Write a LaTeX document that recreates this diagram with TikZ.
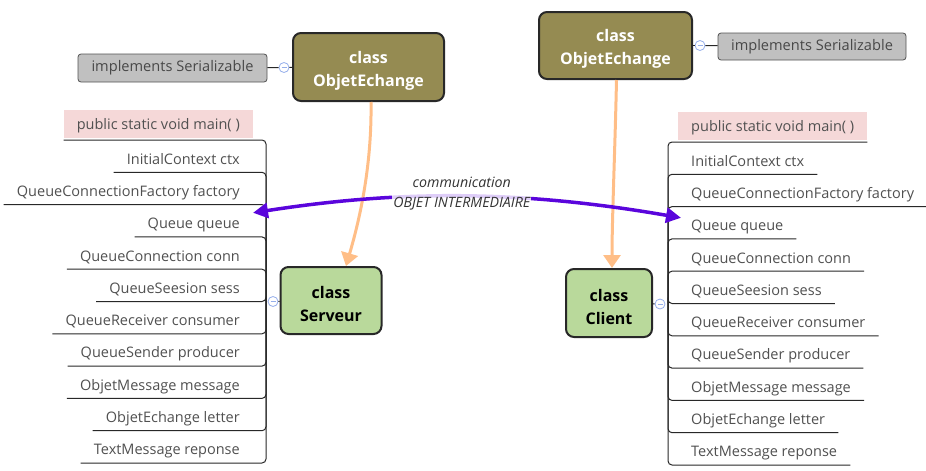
\documentclass[tikz,border=0pt]{standalone}
\usepackage{fontspec}
\setmainfont{Open Sans}
\usetikzlibrary{arrows.meta}
\definecolor{oliveC}{RGB}{149,139,82}
\definecolor{greenC}{RGB}{185,217,155}
\definecolor{grayC}{RGB}{192,192,192}
\definecolor{pinkC}{RGB}{245,216,216}
\definecolor{orangeC}{RGB}{255,190,135}
\definecolor{purpleC}{RGB}{90,5,220}
\definecolor{txtC}{RGB}{80,80,80}
\definecolor{lineC}{RGB}{40,40,40}
\definecolor{markC}{RGB}{150,175,235}
\begin{document}
\begin{tikzpicture}[x=1pt,y=-1pt,
  item/.style={font=\fontsize{14.5}{16}\selectfont, text=txtC, text height=11pt, text depth=0pt, inner ysep=8pt, inner xsep=13pt},
  litem/.style={item, anchor=south east},
  ritem/.style={item, anchor=south west},
  mainbox/.style={fill=pinkC},
  branch/.style={draw=lineC, line width=1pt, rounded corners=4pt},
  classbox/.style={draw=lineC, line width=2pt, rounded corners=8pt},
  classtext/.style={align=center, font=\bfseries\fontsize{16}{23}\selectfont, yshift=-3.5pt, inner sep=0pt},
  olivebox/.style={classbox, fill=oliveC, label={[classtext, text=white]center:#1}},
  greenbox/.style={classbox, fill=greenC, label={[classtext, text=black]center:#1}},
  graybox/.style={draw=lineC!80, line width=0.8pt, fill=grayC, rounded corners=3pt, text=txtC!90!black, font=\fontsize{14.6}{16}\selectfont},
  marker/.style={circle, draw=markC, fill=white, line width=0.8pt, minimum size=10pt, inner sep=0pt,
    path picture={\draw[markC, line width=0.8pt] ([xshift=-2.5pt]path picture bounding box.center) -- ([xshift=2.5pt]path picture bounding box.center);}},
  thinline/.style={draw=lineC, line width=1pt},
  orangearrow/.style={draw=orangeC, line width=3pt, -{Triangle[length=13pt,width=17pt]}},
  purplearrow/.style={draw=purpleC, line width=3.5pt, {Triangle[length=15pt,width=15pt]}-{Triangle[length=15pt,width=15pt]}},
  commlabel/.style={fill=white, fill opacity=0.8, text opacity=1, text=black!80, align=center, inner sep=1pt, font=\itshape\fontsize{14.2}{20}\selectfont}
]
\useasboundingbox (0,0) rectangle (926,471);

% class boxes
\node[olivebox={class\\ObjetEchange}, minimum width=151pt, minimum height=68pt] (lobj) at (368.5,67) {};
\node[olivebox={class\\ObjetEchange}, minimum width=153pt, minimum height=67pt] (robj) at (615.5,45.5) {};
\node[greenbox={class\\Serveur}, minimum width=101pt, minimum height=67pt] (srv) at (331,300.5) {};
\node[greenbox={class\\Client}, minimum width=86pt, minimum height=68pt] (cli) at (609,303) {};

% serializable boxes and markers
\node[graybox, minimum width=189pt, minimum height=28pt] (lser) at (172.5,68) {implements Serializable};
\node[graybox, minimum width=188pt, minimum height=27pt] (rser) at (812,46.5) {implements Serializable};
\node[marker] (lm1) at (284,67.5) {};
\node[marker] (rm1) at (700,45.5) {};
\draw[thinline] (lser) -- (lm1);
\draw[thinline] (lm1) -- (lobj);
\draw[thinline] (robj) -- (rm1);
\draw[thinline] (rm1) -- (rser);

% left tree
\coordinate (sconn) at (266,301.5);
\node[marker] (sm) at (273,301.5) {};
\draw[thinline] (sm) -- (srv);
\node[litem, mainbox, text height=11pt, inner ysep=8.5pt] (L0) at (253,138) {public static void main( )};
\node[litem] (L1) at (253,172.3) {InitialContext ctx};
\node[litem] (L2) at (253,204.6) {QueueConnectionFactory factory};
\node[litem] (L3) at (253,236.9) {Queue queue};
\node[litem] (L4) at (253,269.2) {QueueConnection conn};
\node[litem] (L5) at (253,301.5) {QueueSeesion sess};
\node[litem] (L6) at (253,333.8) {QueueReceiver consumer};
\node[litem] (L7) at (253,366.1) {QueueSender producer};
\node[litem] (L8) at (253,398.4) {ObjetMessage message};
\node[litem] (L9) at (253,430.7) {ObjetEchange letter};
\node[litem] (L10) at (253,463) {TextMessage reponse};
\draw[branch] (sconn) |- ([yshift=-2pt]L0.south west);
\foreach \i in {1,...,10} {\draw[branch] (sconn) |- (L\i.south west);}

% right tree
\coordinate (cconn) at (668,303.5);
\node[marker] (cm) at (660,304) {};
\draw[thinline] (cli) -- (cm);
\node[ritem, mainbox, text height=11pt, inner ysep=8.5pt] (R0) at (678,140) {\makebox[163pt][l]{public static void main( )}};
\node[ritem] (R1) at (678,174.3) {InitialContext ctx};
\node[ritem] (R2) at (678,206.6) {QueueConnectionFactory factory};
\node[ritem] (R3) at (678,238.9) {Queue queue};
\node[ritem] (R4) at (678,271.2) {QueueConnection conn};
\node[ritem] (R5) at (678,303.5) {QueueSeesion sess};
\node[ritem] (R6) at (678,335.8) {QueueReceiver consumer};
\node[ritem] (R7) at (678,368.1) {QueueSender producer};
\node[ritem] (R8) at (678,400.4) {ObjetMessage message};
\node[ritem] (R9) at (678,432.7) {ObjetEchange letter};
\node[ritem] (R10) at (678,465) {TextMessage reponse};
\draw[branch] (cconn) |- ([yshift=-2pt]R0.south east);
\foreach \i in {1,...,10} {\draw[branch] (cconn) |- (R\i.south east);}

% orange inheritance arrows
\draw[orangearrow] ([xshift=2.5pt]lobj.south) .. controls (372,170) and (358,225) .. ([xshift=15pt]srv.north);
\draw[orangearrow] ([xshift=1pt]robj.south) .. controls (615,150) and (612,220) .. ([xshift=3pt]cli.north);

% purple communication arrow
\draw[purplearrow] ([yshift=10.4pt]L3.east) .. controls (400,190) and (520,190) .. ([xshift=3pt,yshift=7.4pt]R3.west)
  node[commlabel, pos=0.5, yshift=3pt] (comm) {communication\\OBJET INTERMEDIAIRE};
\end{tikzpicture}
\end{document}
